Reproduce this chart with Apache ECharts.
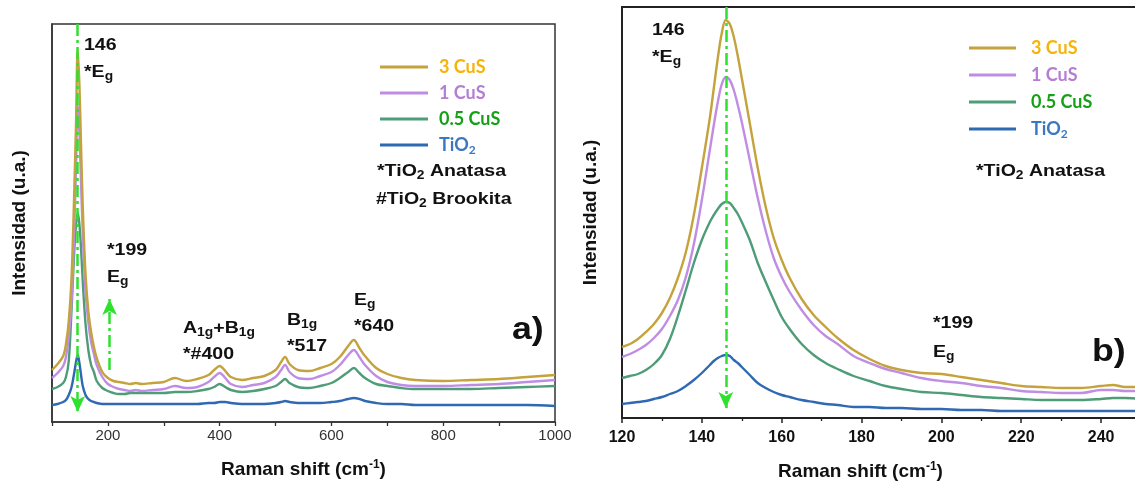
<!DOCTYPE html>
<html><head><meta charset="utf-8">
<script src="https://cdn.jsdelivr.net/npm/echarts@6/dist/echarts.min.js"></script>
<style>html,body{margin:0;padding:0;background:#fff;overflow:hidden}#c{width:1150px;height:487px}</style>
</head><body><div id="c"></div>
<script>
// ---------- DATA ----------
const seriesNames = ['3 CuS', '1 CuS', '0.5 CuS', 'TiO2'];

// Panel a) full spectrum, Raman shift (cm-1)
const leftShift = [100,110,120,125,130,135,140,143,146,149,152,155,160,165,170,175,180,190,200,210,220,230,240,250,260,280,300,320,340,360,380,390,400,410,420,440,460,480,500,510,517,525,540,560,580,600,615,630,640,650,660,680,700,725,750,800,850,900,950,1000];
const left3CuS  = [52,58,66,78,101,145,234,300,372,338,276,216,148,111,90,75,64,50,44,41,40,39,38,39,38,39,40,44,41,43,47,52,56,51,45,42,44,46,52,60,65,58,52,51,54,58,65,76,82,74,66,54,48,44,42,41,42,43,45,47];
const left1CuS  = [44,49,56,65,85,122,196,256,318,290,238,189,130,100,80,68,57,45,38,35,33,32,31,32,31,32,33,36,34,35,40,45,49,44,38,35,37,39,45,52,57,50,44,43,46,50,57,67,72,65,57,46,40,37,36,36,37,38,40,42];
const left05CuS = [33,35,39,45,61,113,173,197,209,198,173,141,98,72,57,50,41,34,31,29,28,28,29,29,29,29,29,30,30,31,33,35,38,35,32,30,31,33,36,40,43,39,35,34,36,39,44,50,54,49,44,38,36,34,33,33,33,34,35,36];
const leftTiO2  = [17,18,20,22,27,35,50,60,67,59,47,36,27,23,21,20,19,18,18,18,18,18,18,18,18,18,18,18,18,18,19,19,20,20,19,18,18,18,19,20,21,20,19,19,19,20,21,23,24,23,21,19,18,18,17,17,17,17,17,16];

// Panel b) zoom on the 146 cm-1 band
const rightShift = [120,122,124,126,128,130,132,134,136,138,140,142,143,144,145,146,147,148,149,150,152,154,156,158,160,162,165,168,171,174,178,182,186,190,195,200,205,210,215,220,225,230,235,240,243,246,250];
const right3CuS  = [71,74,79,86,94,105,120,140,166,203,250,300,330,360,385,398,394,381,362,340,295,250,211,180,158,140,119,103,91,80,68,59,52,48,45,44,41,38,35,32,31,30,30,32,33,31,31];
const right1CuS  = [61,64,68,73,80,89,102,118,141,174,218,268,293,316,334,341,338,328,313,296,258,220,187,160,141,126,108,93,82,74,62,55,49,45,40,37,35,32,30,27,26,25,25,28,28,27,27];
const right05CuS = [40,42,44,48,54,63,79,102,128,155,178,196,203,209,214,216,215,210,204,196,178,155,136,118,101,89,74,63,55,49,42,37,32,29,26,25,23,21,20,19,18,18,18,19,20,20,19];
const rightTiO2  = [14,15,16,17,19,21,24,27,32,38,45,53,57,60,62,63,62,58,55,51,43,35,30,26,23,21,18,16,14,13,11,11,10,10,9,9,8,8,7,7,7,7,7,7,7,7,7];

// axis ranges
const leftX = [100, 1000], leftY = [0, 398];
const rightX = [120, 250], rightY = [0, 411];

// arrows (peak markers): [x, yStart, yEnd]
const leftArrows = [[146, 398, 10], [203, 52, 123]];
const rightArrows = [[146, 411, 10]];

// ---------- STYLE ----------
const lineColors = ['#C4A23C', '#C08DE4', '#4E9C78', '#2F69B2'];
const legendColors = ['#F6B30A', '#B47FD3', '#15A018', '#3A78C2'];
const arrowColor = '#2FE02F';
const F = '"Liberation Sans", Arial, sans-serif';

function pairs(xs, ys) { return xs.map((x, i) => [x, ys[i]]); }
const leftData = [left3CuS, left1CuS, left05CuS, leftTiO2];
const rightData = [right3CuS, right1CuS, right05CuS, rightTiO2];

function arrowLines(list) {
  return list.map(a => [{ coord: [a[0], a[1]] }, { coord: [a[0], a[2]] }]);
}

const series = [];
[ [leftShift, leftData, 0, 2.4, leftArrows], [rightShift, rightData, 1, 2.4, rightArrows] ].forEach(([xs, data, gi, w, arrows]) => {
  for (let i = 3; i >= 0; i--) {
    const s = {
      name: seriesNames[i], type: 'line', xAxisIndex: gi, yAxisIndex: gi,
      data: pairs(xs, data[i]), showSymbol: false, smooth: 0.35,
      lineStyle: { color: lineColors[i], width: w }, itemStyle: { color: lineColors[i] },
      silent: true, animation: false, z: 2
    };
    if (i === 0) {
      s.markLine = {
        silent: true, animation: false, symbol: ['none', 'arrow'], symbolSize: [11, 16],
        label: { show: false },
        lineStyle: { color: arrowColor, width: 2.5, type: [12, 4, 3, 4], opacity: 1 },
        itemStyle: { color: arrowColor },
        emphasis: { disabled: true },
        data: arrowLines(arrows)
      };
    }
    series.push(s);
  }
});

function note(x, y, text, size) {
  return {
    type: 'text', x: x, y: y, scaleX: 1.15, silent: true,
    style: { text: text, font: 'bold ' + (size || 17) + 'px ' + F, fill: '#111',
      textVerticalAlign: 'middle', rich: { sub: { fontSize: 12, fontWeight: 'bold', fontFamily: F, padding: [9, 0, 0, 0] } } }
  };
}

const LF = 'Lato, "Liberation Sans", sans-serif';
function legendText(pad) {
  return {
    fontFamily: LF, fontWeight: 'bold', fontSize: 18, lineHeight: 20,
    padding: [0, 0, 0, pad],
    rich: {
      t: { color: legendColors[3], fontFamily: LF, fontWeight: 'bold', fontSize: 18, lineHeight: 20 },
      s: { color: legendColors[3], fontFamily: LF, fontWeight: 'bold', fontSize: 12, padding: [10, 0, 0, 0] }
    }
  };
}
const legendData = seriesNames.map((n, i) => ({ name: n, textStyle: { color: legendColors[i] } }));
const legendFmt = n => n === 'TiO2' ? '{t|TiO}{s|2}' : n;

const titleStyle = (pad) => ({ fontFamily: F, fontWeight: 'bold', fontSize: 19, color: '#111', padding: pad,
  rich: { sup: { fontFamily: F, fontWeight: 'bold', fontSize: 12, color: '#111', padding: [0, 0, 9, 0] } } });

const option = {
  backgroundColor: '#fff',
  animation: false,
  grid: [
    { left: 52, top: 24, width: 503, height: 398, show: true, borderColor: '#333', borderWidth: 1.5, containLabel: false },
    { left: 622, top: 7, width: 519, height: 411, show: true, borderColor: '#222', borderWidth: 2, containLabel: false }
  ],
  xAxis: [
    { type: 'value', gridIndex: 0, min: leftX[0], max: leftX[1], interval: 100,
      axisLine: { lineStyle: { color: '#333', width: 1.5 } },
      axisTick: { length: 4, lineStyle: { color: '#333', width: 1.3 } },
      axisLabel: { margin: 6, fontFamily: F, fontSize: 15, color: '#333', formatter: v => (v % 200 === 0 ? String(v) : '') },
      splitLine: { show: false },
      name: 'Raman shift (cm{sup|-1})', nameLocation: 'middle', nameGap: 37,
      nameTextStyle: titleStyle([0, 0, 0, 0]) },
    { type: 'value', gridIndex: 1, min: rightX[0], max: rightX[1], interval: 20,
      axisLine: { lineStyle: { color: '#222', width: 2 } },
      axisTick: { length: 5, lineStyle: { color: '#222', width: 1.5 } },
      minorTick: { show: true, splitNumber: 2, length: 3, lineStyle: { color: '#222', width: 1.3 } },
      axisLabel: { margin: 12, fontFamily: F, fontSize: 16, fontWeight: 'bold', color: '#111', formatter: v => (v % 20 === 0 && v <= 240 ? String(v) : '') },
      splitLine: { show: false },
      name: 'Raman shift (cm{sup|-1})', nameLocation: 'middle', nameGap: 43,
      nameTextStyle: titleStyle([0, 42, 0, 0]) }
  ],
  yAxis: [
    { type: 'value', gridIndex: 0, min: leftY[0], max: leftY[1],
      axisLine: { show: true, lineStyle: { color: '#333', width: 1.5 } }, axisTick: { show: false },
      axisLabel: { show: false }, splitLine: { show: false },
      name: 'Intensidad (u.a.)', nameLocation: 'middle', nameGap: 23,
      nameTextStyle: titleStyle([0, 0, 0, 0]) },
    { type: 'value', gridIndex: 1, min: rightY[0], max: rightY[1],
      axisLine: { show: true, lineStyle: { color: '#222', width: 2 } }, axisTick: { show: false },
      axisLabel: { show: false }, splitLine: { show: false },
      name: 'Intensidad (u.a.)', nameLocation: 'middle', nameGap: 22,
      nameTextStyle: titleStyle([0, 0, 0, 0]) }
  ],
  legend: [
    { left: 380, top: 57, padding: 0, orient: 'vertical', icon: 'rect', itemWidth: 48, itemHeight: 3, itemGap: 6,
      selectedMode: false, data: legendData, textStyle: legendText(6), formatter: legendFmt },
    { left: 969, top: 38, padding: 0, orient: 'vertical', icon: 'rect', itemWidth: 47, itemHeight: 3, itemGap: 7,
      selectedMode: false, data: legendData, textStyle: legendText(10), formatter: legendFmt }
  ],
  graphic: [
    note(84, 45, '146'),
    note(84, 72, '*E{sub|g}'),
    note(107, 250, '*199'),
    note(107, 277, 'E{sub|g}'),
    note(183, 328, 'A{sub|1g}+B{sub|1g}'),
    note(183, 354, '*#400'),
    note(287, 320, 'B{sub|1g}'),
    note(287, 346, '*517'),
    note(354, 300, 'E{sub|g}'),
    note(354, 326, '*640'),
    note(512, 330, 'a)', 31),
    note(377, 171, '*TiO{sub|2} Anatasa'),
    note(376, 199, '#TiO{sub|2} Brookita'),
    note(652, 30, '146'),
    note(652, 57, '*E{sub|g}'),
    note(933, 323, '*199'),
    note(933, 352, 'E{sub|g}'),
    note(1092, 352, 'b)', 31),
    note(976, 171, '*TiO{sub|2} Anatasa')
  ],
  series: series
};

const chart = echarts.init(document.getElementById('c'), null, { renderer: 'canvas' });
chart.setOption(option);
</script>
</body></html>
